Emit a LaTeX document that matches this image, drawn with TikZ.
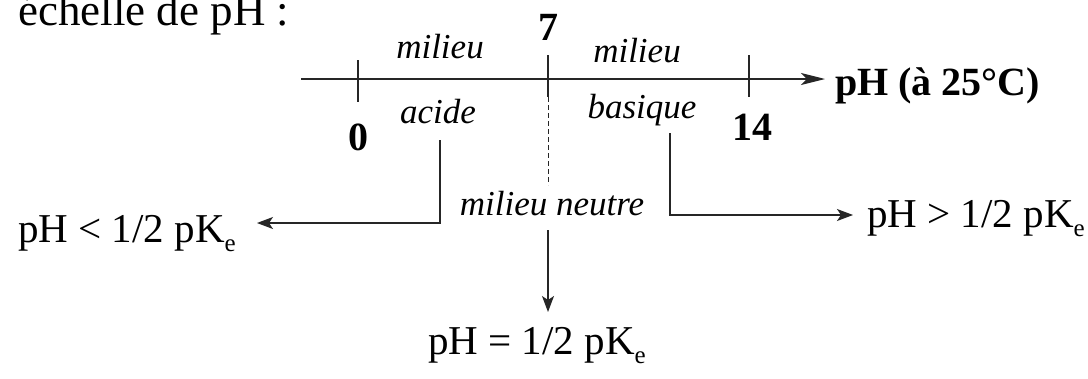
\documentclass[tikz,border=0pt]{standalone}
\usepackage{fontspec}
\setmainfont{Liberation Serif}
\usetikzlibrary{arrows.meta}
\begin{document}
\begin{tikzpicture}[x=1pt,y=-1pt,
  ln/.style={line width=1.2pt,draw=black!85},
  arr/.style={ln,-{Stealth[length=16pt,width=12pt,inset=4pt]}},
  axarr/.style={ln,-{Stealth[length=24pt,width=12pt,inset=6pt]}},
  reg/.style={inner sep=0pt,font=\fontsize{41}{46}\selectfont},
  bld/.style={inner sep=0pt,font=\fontsize{40}{44}\selectfont\bfseries},
  itl/.style={inner sep=0pt,font=\fontsize{35}{40}\selectfont\itshape},
  top/.style={inner sep=0pt,font=\fontsize{45}{50}\selectfont}]
\clip (0,0) rectangle (1088,378);
\fill[white] (0,0) rectangle (1088,378);
\newcommand{\pke}{pK\raisebox{-9pt}{\fontsize{25}{25}\selectfont e}}
% title (cut off at top)
\node[top,anchor=base west] (title) at (18,25) {échelle de pH :};
% axis
\coordinate (ax0) at (301,79);
\coordinate (axE) at (825,79);
\draw[axarr] (ax0) -- (axE);
\node[bld,anchor=base west] (phlab) at (835,95) {pH (à 25°C)};
% ticks
\coordinate (t0a) at (358,60); \coordinate (t0b) at (358,102);
\coordinate (t7a) at (548,55); \coordinate (t7b) at (548,97);
\coordinate (t7c) at (548,185);
\coordinate (t14a) at (749,55); \coordinate (t14b) at (749,97);
\draw[ln] (t0a) -- (t0b);
\draw[ln] (t7a) -- (t7b);
\draw[ln,dash pattern=on 5pt off 3pt,line width=1pt] (t7b) -- (t7c);
\draw[ln] (t14a) -- (t14b);
% numbers
\node[bld,anchor=base] (n0) at (358,150) {0};
\node[bld,anchor=base] (n7) at (548,40) {7};
\node[bld,anchor=base] (n14) at (752,140) {14};
% region labels
\node[itl,anchor=base] (mil1) at (440,58) {milieu};
\node[itl,anchor=base] (acide) at (438,123) {acide};
\node[itl,anchor=base] (mil2) at (637,62) {milieu};
\node[itl,anchor=base] (basique) at (642,118) {basique};
\node[itl,anchor=base] (neutre) at (552,215) {milieu neutre};
% results
\node[reg,anchor=base west] (lt) at (18,242) {pH < 1/2 \pke};
\node[reg,anchor=base west] (gt) at (867,227) {pH > 1/2 \pke};
\node[reg,anchor=base west] (eq) at (428,354) {pH = 1/2 \pke};
% connectors
\coordinate (la) at (440,140); \coordinate (lb) at (257,223);
\draw[arr] (la) |- (lb);
\coordinate (ra) at (670,133); \coordinate (rb) at (853,215);
\draw[arr] (ra) |- (rb);
\coordinate (ma) at (548,230); \coordinate (mb) at (548,312);
\draw[arr] (ma) -- (mb);
\end{tikzpicture}
\end{document}
